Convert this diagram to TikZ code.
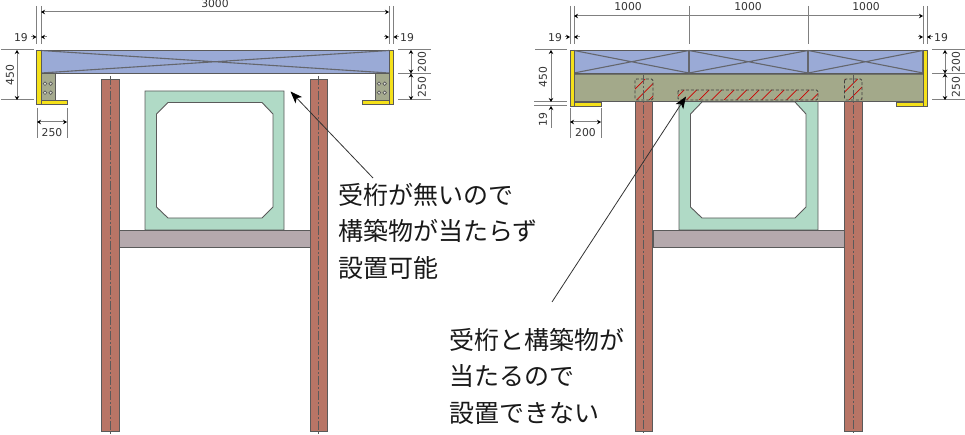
\documentclass[tikz,border=0pt]{standalone}
\usepackage{fontspec}
\setmainfont{DejaVu Sans}
\newfontfamily\jpfont{Noto Sans CJK JP}
\usetikzlibrary{arrows.meta}
\definecolor{truss}{HTML}{9AAAD6}
\definecolor{girder}{HTML}{A3A98A}
\definecolor{gusset}{HTML}{A5AA8E}
\definecolor{brick}{HTML}{B87566}
\definecolor{culvert}{HTML}{B0DAC6}
\definecolor{slab}{HTML}{B5A9AD}
\definecolor{bracket}{HTML}{F5E11A}
\definecolor{edge}{HTML}{5A5A5A}
\definecolor{dimgray}{HTML}{808080}
\tikzset{
  part/.style={draw=edge,line width=0.9pt},
  chord/.style={draw=edge!85!truss,line width=1.1pt},
  brace/.style={draw=edge,line width=0.5pt},
  dimline/.style={draw=dimgray,line width=1pt,{Stealth[black,length=4pt,width=4.5pt]}-{Stealth[black,length=4pt,width=4.5pt]}},
  gapline/.style={draw=dimgray,line width=1pt,-{Stealth[black,length=4pt,width=4.5pt]}},
  extline/.style={draw=dimgray,line width=1pt},
  axisline/.style={draw=edge,line width=0.9pt,dash pattern=on 9pt off 2pt on 2pt off 2pt},
  dimtext/.style={font=\fontsize{10.8}{10.8}\selectfont,text=black!80,inner sep=0pt},
  note/.style={font=\jpfont\fontsize{25}{36.5}\selectfont,align=left,anchor=north west,inner sep=0pt,text=black!90},
  leader/.style={draw=black!80,line width=0.8pt,-{Stealth[black,length=12pt,width=9pt,inset=3pt]}},
  clash/.style={draw=black!75,line width=0.8pt,dash pattern=on 3pt off 2pt,rounded corners=1.5pt},
  redline/.style={draw=red!80!black,line width=0.7pt},
}
\begin{document}
\begin{tikzpicture}[x=1pt,y=-1pt]
  \useasboundingbox (0,0) rectangle (965,435);
  % left panel
  \foreach \xa in {101.5,310} {
    \fill[brick,draw=edge,line width=0.9pt] (\xa,79) rectangle ++(17.5,352);
    \draw[axisline] (\xa+8.75,76) -- (\xa+8.75,435);
  }
  \draw[part,fill=slab] (119,230) rectangle (310,247);
  \draw[part,fill=culvert,even odd rule]
    (145,91) rectangle (284,230)
    (168,102.5) -- (262,102.5) -- (273,114) -- (273,207) -- (262,218) -- (168,218) -- (156.5,207) -- (156.5,114) -- cycle;
  \draw[part,fill=truss] (41,50) rectangle (389,73);
  \draw[chord] (41,50.5) -- (389,73) (41,73) -- (389,50.5);
  \draw[part,fill=gusset] (41,73) rectangle (55,100);
  \draw[part,fill=gusset] (375,73) rectangle (389,100);
  \foreach \xa in {45,50.7,379,384.7} \foreach \ya in {83.7,92.7}
    \draw[edge,line width=0.7pt,fill=white!70!gusset] (\xa,\ya) circle (1.8pt);
  \draw[brace,fill=bracket] (36.5,50) rectangle (41,104);
  \draw[brace,fill=bracket] (41,100.5) rectangle (67,104);
  \draw[brace,fill=bracket] (389,50) rectangle (393.5,104);
  \draw[brace,fill=bracket] (362,100.5) rectangle (389,104);
  % left dims
  \draw[extline] (36.5,6) -- (36.5,44) (41,6) -- (41,44) (389,6) -- (389,44) (393.5,6) -- (393.5,44);
  \draw[dimline] (41,12) -- (389,12);
  \node[dimtext] (spanA) at (215,3.5) {3000};
  \draw[gapline] (31,37) -- (36.5,37);
  \draw[gapline] (46.5,37) -- (41,37);
  \draw[gapline] (383.5,37) -- (389,37);
  \draw[gapline] (399,37) -- (393.5,37);
  \node[dimtext] (gapA) at (21,37.7) {19};
  \node[dimtext] (gapB) at (407,37.7) {19};
  \draw[extline] (1,50) -- (34,50) (1,100) -- (34,100);
  \draw[dimline] (17,50) -- (17,100);
  \node[dimtext,rotate=90] (heightA) at (10,75) {450};
  \draw[extline] (37,108) -- (37,138) (67,108) -- (67,138);
  \draw[dimline] (37,122) -- (67,122);
  \node[dimtext] (flangeA) at (52,133) {250};
  \draw[extline] (398,50) -- (431,50) (398,73.5) -- (431,73.5) (398,100) -- (431,100);
  \draw[dimline] (411,50) -- (411,73.5);
  \draw[dimline] (411,73.5) -- (411,100);
  \node[dimtext,rotate=90] (upperA) at (422,62) {200};
  \node[dimtext,rotate=90] (lowerA) at (422,87) {250};
  % right panel
  \foreach \xa in {635,844.5} {
    \fill[brick,draw=edge,line width=0.9pt] (\xa,100) rectangle ++(17.5,331);
  }
  \draw[part,fill=slab] (653,230) rectangle (844.5,247);
  \draw[part,fill=culvert,even odd rule]
    (679,100) rectangle (818,230)
    (702,102) -- (795,102) -- (806,114) -- (806,207) -- (795,218) -- (702,218) -- (690.5,207) -- (690.5,114) -- cycle;
  \draw[part,fill=girder] (574,73) rectangle (923,101);
  \fill[edge!70!girder] (574,73) rectangle (923,75.5);
  \draw[part,fill=truss] (574,50) rectangle (923,73);
  \foreach \xa/\xb in {574/689,689/808,808/923} {
    \draw[chord] (\xa,50.5) -- (\xb,73) (\xa,73) -- (\xb,50.5);
    \draw[chord] (\xb,50) -- (\xb,73);
  }
  \begin{scope}
    \clip (635,79) rectangle (653,100) (844.5,79) rectangle (862,100) (678,90) rectangle (818,100);
    \foreach \xa in {0,...,19}
      \draw[redline] (624.2+12.5*\xa,100) -- ++(21,-21);
  \end{scope}
  \foreach \xa/\xb/\ya in {635/653/79,844.5/862/79,678/818/90}
    \draw[clash] (\xa,\ya) rectangle (\xb,100);
  \foreach \xa in {643.75,853.25}
    \draw[axisline] (\xa,75) -- (\xa,435);
  \draw[brace,fill=bracket] (570,50) rectangle (574,106);
  \draw[brace,fill=bracket] (574,102.7) rectangle (601,106);
  \draw[brace,fill=bracket] (923,50) rectangle (927,106);
  \draw[brace,fill=bracket] (896,102.7) rectangle (923,106);
  % right dims
  \draw[extline] (570,6) -- (570,44) (574,6) -- (574,44) (689,6) -- (689,44) (808,6) -- (808,44) (923,6) -- (923,44) (927,6) -- (927,44);
  \draw[dimline] (574,16) -- (923,16);
  \node[dimtext] (spanB) at (628,7) {1000};
  \node[dimtext] (spanC) at (748,7) {1000};
  \node[dimtext] (spanD) at (866,7) {1000};
  \draw[gapline] (564.5,37) -- (570,37);
  \draw[gapline] (579.5,37) -- (574,37);
  \draw[gapline] (917.5,37) -- (923,37);
  \draw[gapline] (932.5,37) -- (927,37);
  \node[dimtext] (gapC) at (555,37.7) {19};
  \node[dimtext] (gapD) at (941,37.7) {19};
  \draw[extline] (535,50) -- (567,50) (534,102) -- (567,102) (534,106) -- (567,106);
  \draw[dimline] (551,50) -- (551,102);
  \draw[extline,{Stealth[black,length=4pt,width=4.5pt]}-] (551,106) -- (551,128);
  \node[dimtext,rotate=90] (heightB) at (543,77) {450};
  \node[dimtext,rotate=90] (gapE) at (543,120) {19};
  \draw[extline] (570,108) -- (570,138) (601,108) -- (601,138);
  \draw[dimline] (570,122) -- (601,122);
  \node[dimtext] (flangeB) at (585.5,133) {200};
  \draw[extline] (932,50) -- (965,50) (932,73.5) -- (965,73.5) (932,100) -- (965,100);
  \draw[dimline] (945,50) -- (945,73.5);
  \draw[dimline] (945,73.5) -- (945,100);
  \node[dimtext,rotate=90] (upperB) at (956,62) {200};
  \node[dimtext,rotate=90] (lowerB) at (956,87) {250};
  % notes
  \node[note] (noteA) at (338,183) {受桁が無いので\\構築物が当たらず\\設置可能};
  \node[note] (noteB) at (449,328) {受桁と構築物が\\当たるので\\設置できない};
  \coordinate (tailA) at (373,178);
  \coordinate (tipA) at (290.5,91.5);
  \coordinate (tailB) at (552,302);
  \coordinate (tipB) at (686,96.5);
  \draw[leader] (tailA) -- (tipA);
  \draw[leader] (tailB) -- (tipB);
\end{tikzpicture}
\end{document}
